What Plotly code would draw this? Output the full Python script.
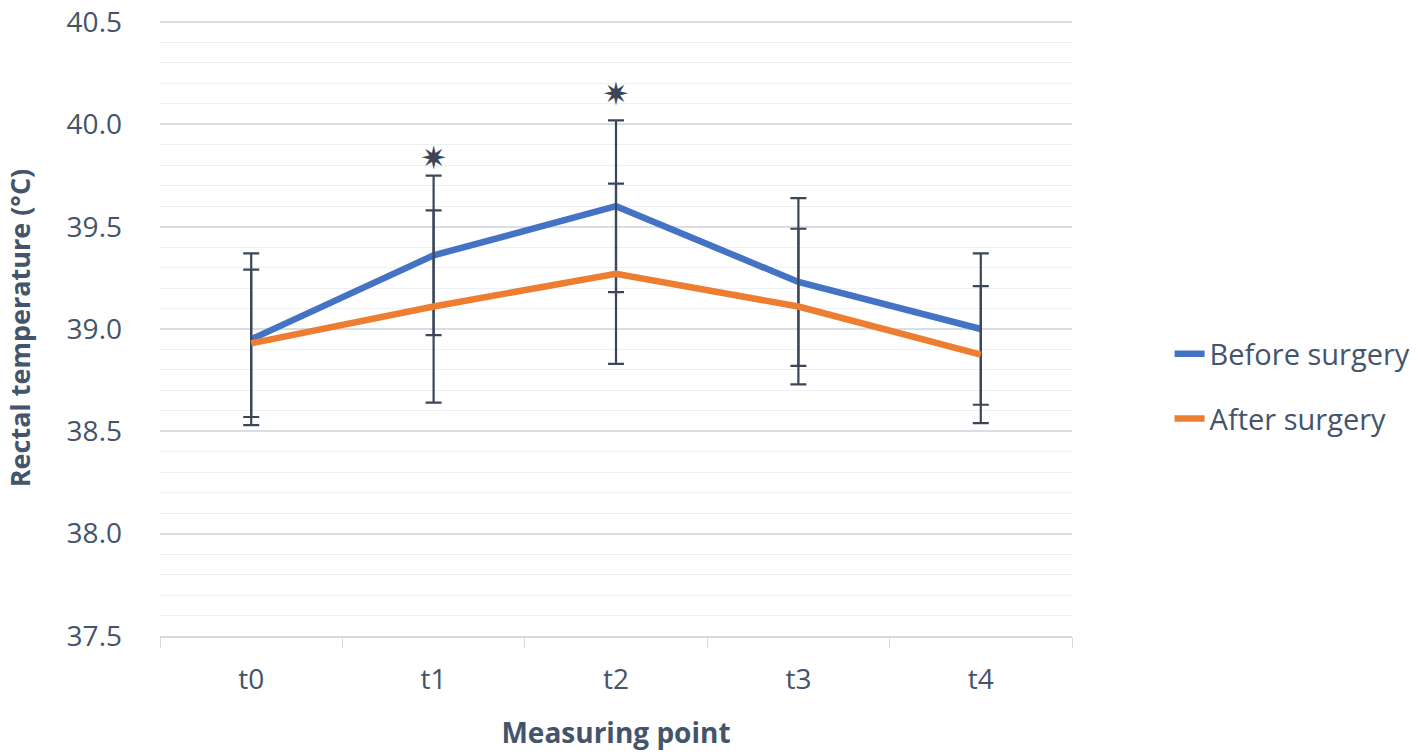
import plotly.graph_objects as go

# measuring points
points = ["t0", "t1", "t2", "t3", "t4"]

# mean rectal temperature (°C) and error bar half-lengths
before_mean = [38.95, 39.36, 39.60, 39.23, 39.00]
before_err = [0.42, 0.39, 0.42, 0.41, 0.37]
after_mean = [38.93, 39.11, 39.27, 39.11, 38.875]
after_err = [0.36, 0.47, 0.44, 0.38, 0.335]

# significance markers
star_points = ["t1", "t2"]
star_y = [39.82, 40.135]

y_ticks = [37.5, 38.0, 38.5, 39.0, 39.5, 40.0, 40.5]

BLUE = "#4472C4"
ORANGE = "#ED7D31"
INK = "#44546A"
BAR = "#3b4759"
FONT = "Open Sans"

fig = go.Figure()

fig.add_trace(go.Scatter(
    x=points, y=before_mean, mode="lines", name="Before surgery",
    line=dict(color=BLUE, width=6.5), legendgroup="a",
    error_y=dict(type="data", array=before_err, color=BAR, thickness=2.2, width=8),
))
fig.add_trace(go.Scatter(
    x=points, y=after_mean, mode="lines", name="After surgery",
    line=dict(color=ORANGE, width=6.5), legendgroup="b",
    error_y=dict(type="data", array=after_err, color=BAR, thickness=2.2, width=8),
))
fig.add_trace(go.Scatter(
    x=star_points, y=star_y, mode="text", text=["✷"] * len(star_points),
    textfont=dict(family="DejaVu Sans", size=32, color=BAR),
    showlegend=False, hoverinfo="skip",
))

fig.update_layout(
    width=1418, height=756,
    margin=dict(l=160, r=346, t=20, b=120, autoexpand=False),
    paper_bgcolor="white", plot_bgcolor="white",
    font=dict(family=FONT, color=INK),
    legend=dict(
        x=1.107, y=0.405, xanchor="left", yanchor="middle",
        font=dict(size=29, color=INK), traceorder="grouped", tracegroupgap=24,
        bgcolor="rgba(0,0,0,0)",
    ),
)

fig.update_xaxes(
    type="category", range=[-0.5, 4.5], automargin=False,
    showgrid=False, showline=True, linecolor="#d9d9d9", linewidth=1.5,
    ticks="outside", tickson="boundaries", ticklen=10, tickcolor="#d9d9d9",
    tickfont=dict(size=28, color=INK), ticklabelstandoff=18,
    title=dict(text="<b>Measuring point</b>", font=dict(size=28, color=INK), standoff=27),
)

fig.update_yaxes(
    range=[37.5, 40.51], tickvals=y_ticks, ticktext=[f"{v:.1f}" for v in y_ticks],
    automargin=False, ticklabeloverflow="allow",
    showgrid=True, gridcolor="#d9dde5", gridwidth=1.5,
    minor=dict(dtick=0.1, showgrid=True, gridcolor="#eef0f4", gridwidth=1),
    zeroline=False, showline=False, ticks="",
    tickfont=dict(size=28, color=INK), ticklabelstandoff=37,
    title=dict(text="<b>Rectal temperature (°C)</b>", font=dict(size=27, color=INK), standoff=28),
)

# drop the default 8px body margin so the figure sits at the page corner
fig.write_html("out.html", config={"displayModeBar": False},
               post_script="document.body.style.margin='0';")
